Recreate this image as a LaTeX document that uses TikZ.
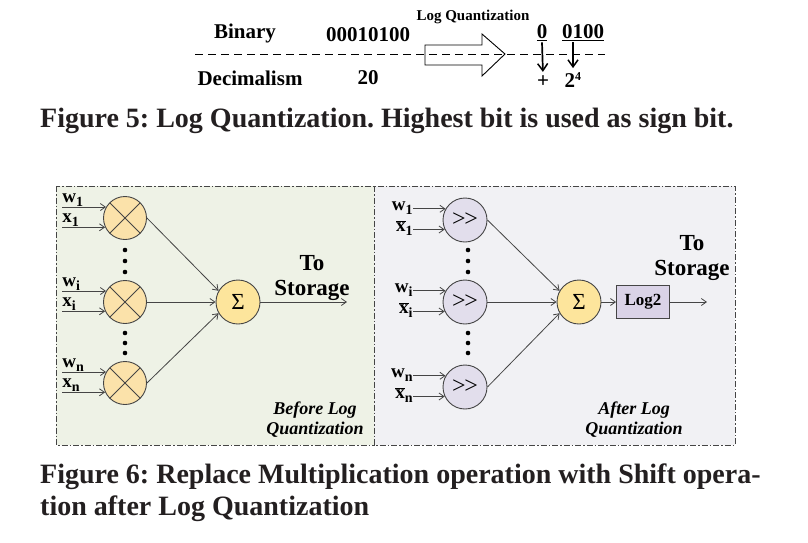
\documentclass[tikz,border=0pt]{standalone}
\usepackage{fontspec}
\setmainfont{Liberation Serif}
\usetikzlibrary{arrows.meta}
\frenchspacing
\definecolor{panelgreen}{HTML}{EEF2E6}
\definecolor{panelgray}{HTML}{F1F1F4}
\definecolor{mulfill}{HTML}{FBE2AA}
\definecolor{sumfill}{HTML}{FDE59C}
\definecolor{shiftfill}{HTML}{E2DEEC}
\definecolor{logfill}{HTML}{DAD3E7}
\definecolor{edge}{HTML}{454545}
\definecolor{captext}{HTML}{231F20}
\newcommand{\lowidx}[1]{\raisebox{-0.22em}{\fontsize{14}{14}\selectfont\bfseries #1}}
\tikzset{
  arr/.style={-{Straight Barb[length=5pt,width=7pt]}, edge, line width=0.8pt},
  downarr/.style={-{Straight Barb[length=7pt,width=10pt,line width=1.5pt]}, black, line width=1.7pt},
  panel/.style={draw=edge, line width=0.8pt, dash pattern=on 6pt off 2pt on 1.5pt off 2pt},
  mul/.style={circle, draw=edge, line width=0.9pt, fill=mulfill, minimum size=43pt, inner sep=0pt,
    path picture={\draw[edge, line width=0.8pt]
      (path picture bounding box.north west) -- (path picture bounding box.south east)
      (path picture bounding box.north east) -- (path picture bounding box.south west);}},
  shiftop/.style={circle, draw=edge, line width=0.9pt, fill=shiftfill, minimum size=44pt, inner sep=0pt,
    font=\fontsize{24}{24}\selectfont, text=black},
  sumop/.style={circle, draw=edge, line width=0.9pt, fill=sumfill, minimum size=44pt, inner sep=0pt,
    font=\fontsize{23}{23}\selectfont, text=black},
  logbox/.style={draw=edge, line width=0.9pt, fill=logfill, minimum width=53pt, minimum height=33pt,
    font=\fontsize{17}{17}\selectfont\bfseries, text=black},
  lbl/.style={font=\fontsize{19}{19}\selectfont\bfseries, text=black, inner sep=0pt},
  bigtxt/.style={font=\fontsize{21}{22}\selectfont\bfseries, inner sep=1pt},
  smalltxt/.style={font=\fontsize{15}{15}\selectfont\bfseries, inner sep=1pt},
  storage/.style={font=\fontsize{23}{25}\selectfont\bfseries, align=center, inner sep=0pt},
  note/.style={font=\fontsize{18}{20}\selectfont\bfseries\itshape, align=center, inner sep=0pt},
  figcap/.style={font=\fontsize{28}{32}\selectfont\bfseries, text=captext, inner sep=0pt, anchor=base west}
}
\begin{document}
\begin{tikzpicture}[x=1pt, y=-1pt]
    \useasboundingbox[fill=white] (0,0) rectangle (808,542);
    % Figure 5
    \node[bigtxt] (bin) at (245,33) {Binary};
    \node[bigtxt] (binval) at (368,35) {00010100};
    \node[bigtxt] (dec) at (250,78) {Decimalism};
    \node[bigtxt] (decval) at (368,78) {20};
    \node[smalltxt] (lq) at (473,17) {Log Quantization};
    \draw[line width=0.9pt] (425,45) -- (482,45) -- (482,34) -- (505,54) -- (482,76) -- (482,65) -- (425,65) -- cycle;
    \draw[line width=1pt, dash pattern=on 8pt off 5pt] (195,54) -- (605,54);
    \node[bigtxt] (sgn) at (542,33) {\underline{0}};
    \node[bigtxt] (mag) at (583,33) {\underline{0100}};
    \node[bigtxt] (plus) at (543,82) {+};
    \node[bigtxt] (pow) at (573,80) {2\textsuperscript{\fontsize{12}{12}\selectfont 4}};
    \draw[downarr, shorten >=3pt] (sgn.south) -- (plus.north);
    \draw[downarr, shorten >=3pt] (mag.south -| pow) -- (pow.north);
    \node[figcap] (cap5) at (40,127) {Figure 5: Log Quantization. Highest bit is used as sign bit.};
    % Figure 6 panels
    \draw[panel, fill=panelgreen] (56,186) rectangle (374,445);
    \draw[panel, fill=panelgray] (374,186) rectangle (735,445);
    \coordinate (L) at (62,0);
    \coordinate (R) at (413,0);
    % before log quantization
    \node[sumop] (sum1) at (238,302) {Σ};
    \foreach \s/\y in {1/218, i/302, n/383}{
        \node[mul] (m\s) at (125,\y) {};
        \draw[arr] (m\s.150 -| L) node[lbl, anchor=south west] {w\lowidx{\s}} -- (m\s.150);
        \draw[arr] (m\s.205 -| L) node[lbl, anchor=south west] {x\lowidx{\s}} -- (m\s.205);
    }
    \draw[arr] (m1.east) -- (sum1.150);
    \draw[arr] (mi) -- (sum1);
    \draw[arr] (mn.east) -- (sum1.210);
    \coordinate (out1) at (347,302);
    \draw[arr] (sum1) -- (out1);
    \node[storage] (st1) at (312,278) {To\\Storage};
    \node[note] (bef) at (315,420) {Before Log\\Quantization};
    % after log quantization
    \node[sumop] (sum2) at (579,302) {Σ};
    \foreach \s/\y in {1/220, i/302, n/387}{
        \node[shiftop] (s\s) at (465,\y) {>\kern-1.5pt>};
        \draw[arr] (s\s.150 -| R) node[lbl, anchor=base east, yshift=-2pt] {w\lowidx{\s}} -- (s\s.150);
        \draw[arr] (s\s.205 -| R) node[lbl, anchor=base east, yshift=-2pt] {$\overline{\mbox{x}}$\lowidx{\s}} -- (s\s.205);
    }
    \draw[arr] (s1.east) -- (sum2.150);
    \draw[arr] (si) -- (sum2);
    \draw[arr] (sn.east) -- (sum2.210);
    \node[logbox] (log) at (643,302) {Log2};
    \coordinate (out2) at (707,302);
    \draw[arr] (sum2) -- (log);
    \draw[arr] (log) -- (out2);
    \node[storage] (st2) at (692,258) {To\\Storage};
    \node[note] (aft) at (634,420) {After Log\\Quantization};
    % dots
    \foreach \y in {250,261,272,333,343,353}{
        \fill (125,\y) circle (2.3);
        \fill (468,\y) circle (2.3);
    }
    \node[figcap] (cap6a) at (40,483) {Figure 6: Replace Multiplication operation with Shift opera-};
    \node[figcap] (cap6b) at (40,515) {tion after Log Quantization};
\end{tikzpicture}
\end{document}
